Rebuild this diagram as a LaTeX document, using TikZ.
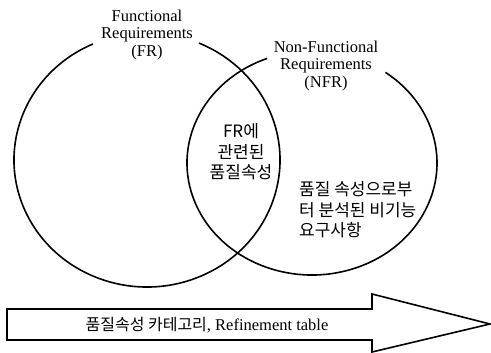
\documentclass[tikz,border=0pt]{standalone}
\usepackage{fontspec}
\setmainfont{Liberation Serif}
\newfontfamily\kor{Noto Sans CJK KR}
\begin{document}
\begin{tikzpicture}[x=1pt,y=1pt,
  ring/.style={line width=1.6pt},
  enlabel/.style={font=\fontsize{16.5}{17.5}\selectfont, align=center, inner sep=0pt},
  kolabel/.style={font=\kor\fontsize{17}{20.5}\selectfont, inner sep=0pt},
  bigarrow/.style={line width=1.6pt, fill=white}]
\useasboundingbox (0,0) rectangle (491,-353);
% ellipse centres
\coordinate (fc) at (147,-160);
\coordinate (nc) at (312,-163);
% FR ellipse with a gap for its label
\draw[ring] (fc) ++(114:133 and 127) arc[start angle=114, end angle=427, x radius=133, y radius=127];
% NFR ellipse with a gap for its label
\draw[ring] (nc) ++(111:125 and 112) arc[start angle=111, end angle=414, x radius=125, y radius=112];
% labels
\node[enlabel] (fr) at (147,-35) {Functional\\Requirements\\(FR)};
\node[enlabel] (nfr) at (326,-66) {Non-Functional\\Requirements\\(NFR)};
\node[kolabel, align=center] (frq) at (241,-152) {FR에\\관련된\\품질속성};
\node[kolabel, align=left, anchor=west] (nfrq) at (299,-210) {품질 속성으로부\\터 분석된 비기능\\요구사항};
% big arrow
\coordinate (a1) at (7,-309);
\coordinate (a2) at (372,-309);
\coordinate (a3) at (372,-294);
\coordinate (a4) at (490,-324);
\coordinate (a5) at (372,-352);
\coordinate (a6) at (372,-340);
\coordinate (a7) at (7,-340);
\draw[bigarrow] (a1) -- (a2) -- (a3) -- (a4) -- (a5) -- (a6) -- (a7) -- cycle;
\node[inner sep=0pt, font=\fontsize{16.5}{17}\selectfont] (cat) at (207,-325) {{\kor\fontsize{16}{17}\selectfont 품질속성 카테고리}, Refinement table};
\end{tikzpicture}
\end{document}
